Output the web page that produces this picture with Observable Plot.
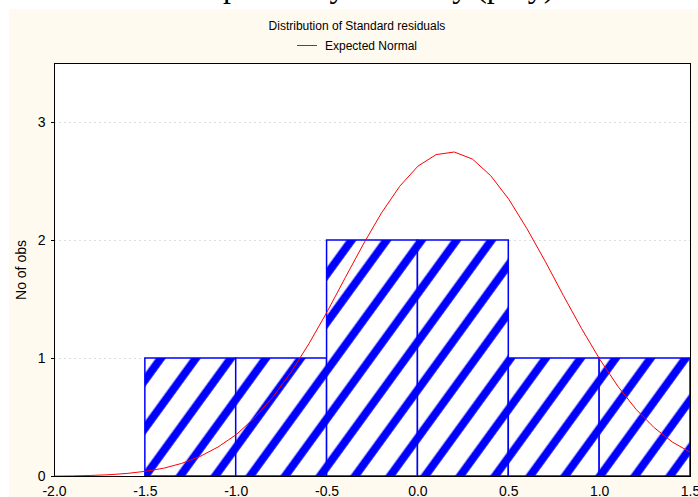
<!DOCTYPE html>
<html>
<head>
<meta charset="utf-8">
<script src="https://cdn.jsdelivr.net/npm/d3@7"></script>
<script src="https://cdn.jsdelivr.net/npm/@observablehq/plot@0.6"></script>
<style>
  body { margin: 0; background: #fff; width: 698px; height: 497px; overflow: hidden; position: relative;
         font-family: "Liberation Sans", Arial, sans-serif; }
  #bg { position: absolute; left: 9px; top: 9px; width: 689px; height: 488px; background: #FEFAF0; }
  #maintitle { position: absolute; left: 0; width: 740px; top: -30px; text-align: center;
               font-family: "Liberation Serif", "Times New Roman", serif; font-size: 32px; line-height: 32px; white-space: nowrap; }
  #subtitle { position: absolute; left: 0; width: 714px; top: 19px; text-align: center; font-size: 12px; line-height: 14px; color: #000; white-space: nowrap; }
  #legend { position: absolute; left: 0; width: 714px; top: 39px; text-align: center; font-size: 12px; line-height: 14px; white-space: nowrap; }
  #legend .sw { display: inline-block; width: 20px; height: 0; border-top: 1px solid #ff0000; vertical-align: middle; margin-right: 8px; position: relative; top: -1px; }
  #ylabel { position: absolute; left: 21px; top: 270px; transform: translate(-50%, -50%) rotate(-90deg); font-size: 14px; line-height: 16px; white-space: nowrap; }
  #chart { position: absolute; left: 9px; top: 58px; }
</style>
</head>
<body>
<div id="bg"></div>
<div id="maintitle">Dependency of x on y (poly)</div>
<div id="subtitle">Distribution of Standard residuals</div>
<div id="legend"><span class="sw"></span>Expected Normal</div>
<div id="chart"></div>
<div id="ylabel">No of obs</div>
<script>
// Histogram bins (standard residuals) and counts
const binStart = [-1.5, -1.0, -0.5, 0.0, 0.5, 1.0];
const binEnd   = [-1.0, -0.5,  0.0, 0.5, 1.0, 1.5];
const counts   = [1, 1, 2, 2, 1, 1];

// Expected normal curve
const curveX = [-2.0, -1.9, -1.8, -1.7, -1.6, -1.5, -1.4, -1.3, -1.2, -1.1,
                -1.0, -0.9, -0.8, -0.7, -0.6, -0.5, -0.4, -0.3, -0.2, -0.1,
                 0.0,  0.1,  0.2,  0.3,  0.4,  0.5,  0.6,  0.7,  0.8,  0.9,
                 1.0,  1.1,  1.2,  1.3,  1.4,  1.5];
const curveY = [0.003, 0.005, 0.009, 0.015, 0.026, 0.044, 0.070, 0.111, 0.169, 0.250,
                0.355, 0.495, 0.670, 0.880, 1.125, 1.395, 1.685, 1.970, 2.235, 2.460,
                2.630, 2.728, 2.750, 2.690, 2.550, 2.350, 2.100, 1.825, 1.535, 1.255,
                0.995, 0.765, 0.570, 0.414, 0.292, 0.205];

const xTicks = [-2.0, -1.5, -1.0, -0.5, 0.0, 0.5, 1.0, 1.5];
const yTicks = [0, 1, 2, 3];
const gridY  = [1, 2, 3];

const bins = binStart.map((s, i) => ({x1: s, x2: binEnd[i], y: counts[i]}));
const curve = curveX.map((x, i) => ({x, y: curveY[i]}));

const plot = Plot.plot({
  width: 689,
  height: 439,
  marginLeft: 45,
  marginRight: 8,
  marginTop: 5,
  marginBottom: 21,
  style: {fontFamily: "'Liberation Sans', Arial, sans-serif", fontSize: "14px", background: "transparent", color: "#000", overflow: "visible"},
  x: {domain: [-2.0, 1.5], ticks: xTicks, tickFormat: d => d.toFixed(1), tickSize: 0, tickPadding: 10, label: null},
  y: {domain: [0, 3.5], ticks: yTicks, tickFormat: d => String(d), tickSize: 3, tickPadding: 6, label: null},
  marks: [
    Plot.frame({fill: "white", stroke: "none"}),
    Plot.ruleY(gridY, {stroke: "#dddddd", strokeDasharray: "2,3", strokeWidth: 1}),
    Plot.rectY(bins, {x1: "x1", x2: "x2", y: "y", fill: "url(#hatch)", stroke: "#0000ff", strokeWidth: 1.5}),
    Plot.line(curve, {x: "x", y: "y", stroke: "#ff0000", strokeWidth: 1}),
    Plot.frame({stroke: "#000", strokeWidth: 1})
  ]
});
document.getElementById("chart").appendChild(plot);

const svg = d3.select(plot.tagName.toLowerCase() === "svg" ? plot : plot.querySelector("svg"));
const defs = svg.insert("defs", ":first-child");
const pat = defs.append("pattern")
  .attr("id", "hatch")
  .attr("patternUnits", "userSpaceOnUse")
  .attr("width", 28.3).attr("height", 28.3)
  .attr("patternTransform", "rotate(36)");
pat.append("rect").attr("width", 28.3).attr("height", 28.3).attr("fill", "white");
pat.append("rect").attr("x", 12.3).attr("y", 0).attr("width", 8).attr("height", 28.3).attr("fill", "#0000ff");
</script>
</body>
</html>
